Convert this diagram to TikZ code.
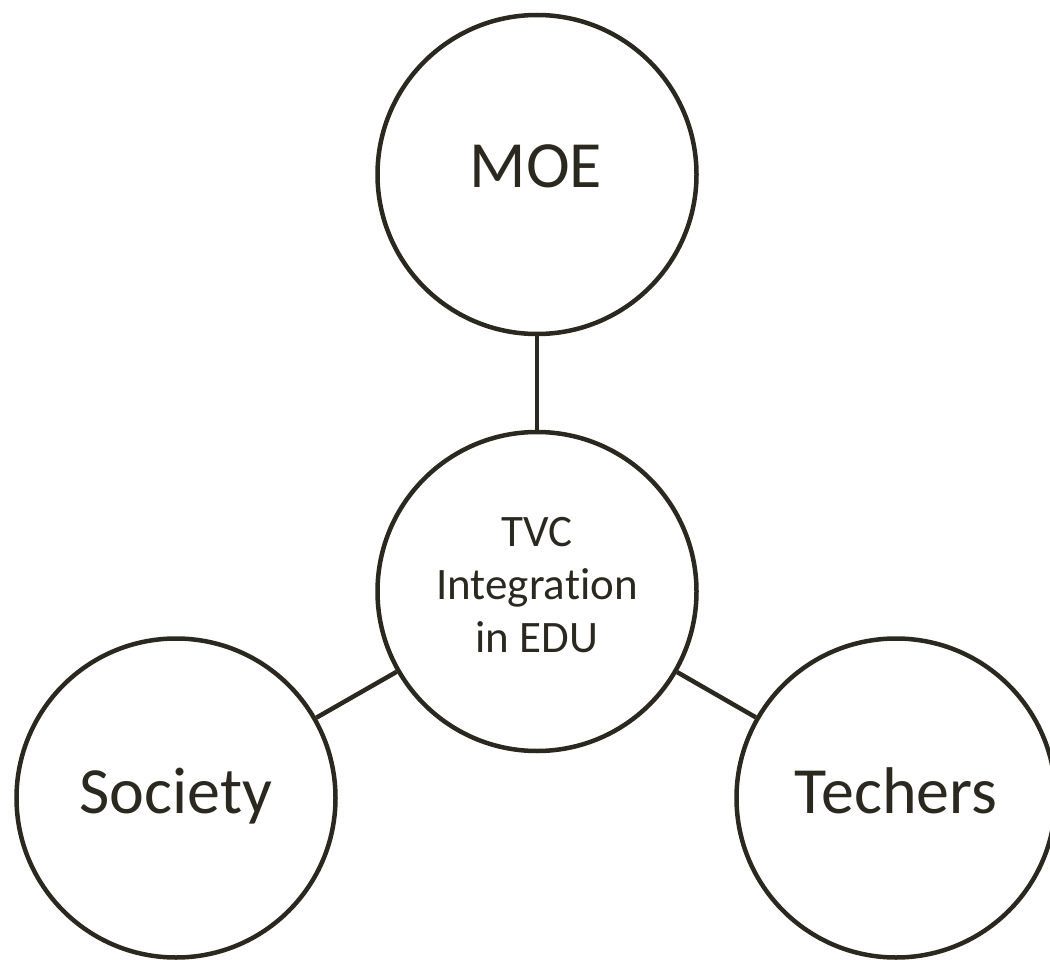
\documentclass[tikz,border=0pt]{standalone}
\usepackage{fontspec}
\setmainfont{Carlito}[Ligatures=NoCommon]
\definecolor{ink}{HTML}{2B2820}
\begin{document}
\begin{tikzpicture}[x=1pt,y=-1pt,
  ring/.style={circle, draw=ink, line width=4.5pt, minimum size=319pt, inner sep=0pt},
  link/.style={draw=ink, line width=4.5pt},
  bigtext/.style={font=\fontsize{66}{79}\selectfont, text=ink, inner sep=0pt, anchor=base},
  smalltext/.style={font=\fontsize{45}{53}\selectfont, text=ink, align=center, inner sep=0pt, anchor=north}]
\useasboundingbox (0,0) rectangle (1050,960);
% the four circles
\node[ring] (moe) at (537,174.5) {};
\node[ring] (tvc) at (537,591.5) {};
\node[ring] (soc) at (176,798) {};
\node[ring] (tch) at (896,798) {};
% connectors from the hub to each circle
\draw[link] (moe) -- (tvc);
\draw[link] (soc) -- (tvc);
\draw[link] (tch) -- (tvc);
% labels
\node[bigtext] (moetxt) at (536,188) {MOE};
\node[bigtext] (soctxt) at (176,813) {Society};
\node[bigtext] (tchtxt) at (896,813) {Techers};
\node[smalltext] (tvctxt) at (537,517) {TVC\\Integration\\in EDU};
\end{tikzpicture}
\end{document}
